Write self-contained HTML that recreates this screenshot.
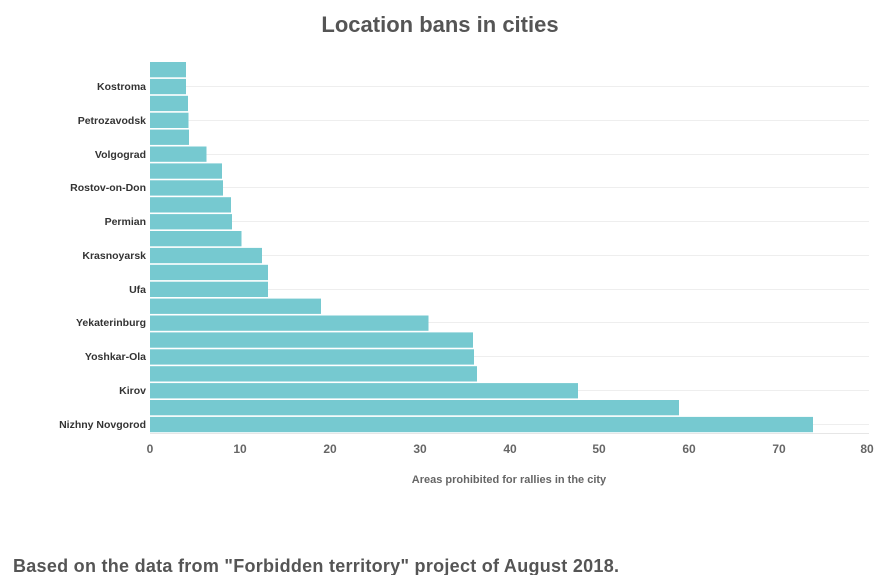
<!DOCTYPE html>
<html><head><style>
body{margin:0;background:#fff;width:879px;height:575px;overflow:hidden;font-family:"Liberation Sans",sans-serif;}
</style></head><body>
<svg width="879" height="575" xmlns="http://www.w3.org/2000/svg" font-family="Liberation Sans, sans-serif">
<text x="440" y="32" text-anchor="middle" font-size="22" font-weight="bold" fill="#555">Location bans in cities</text>
<g stroke="#eee" stroke-width="1">
<line x1="150" x2="869" y1="86.5" y2="86.5"/><line x1="150" x2="869" y1="120.5" y2="120.5"/>
<line x1="150" x2="869" y1="154.5" y2="154.5"/><line x1="150" x2="869" y1="187.5" y2="187.5"/>
<line x1="150" x2="869" y1="221.5" y2="221.5"/><line x1="150" x2="869" y1="255.5" y2="255.5"/>
<line x1="150" x2="869" y1="289.5" y2="289.5"/><line x1="150" x2="869" y1="322.5" y2="322.5"/>
<line x1="150" x2="869" y1="356.5" y2="356.5"/><line x1="150" x2="869" y1="390.5" y2="390.5"/>
<line x1="150" x2="869" y1="424.5" y2="424.5"/>
</g>
<g fill="#76c9d0">
<rect x="150" y="62" width="36" height="15.3"/>
<rect x="150" y="78.9" width="36" height="15.3"/>
<rect x="150" y="95.8" width="38" height="15.3"/>
<rect x="150" y="112.7" width="38.5" height="15.3"/>
<rect x="150" y="129.6" width="39" height="15.3"/>
<rect x="150" y="146.5" width="56.5" height="15.3"/>
<rect x="150" y="163.4" width="72" height="15.3"/>
<rect x="150" y="180.3" width="73" height="15.3"/>
<rect x="150" y="197.2" width="81" height="15.3"/>
<rect x="150" y="214.1" width="82" height="15.3"/>
<rect x="150" y="231" width="91.5" height="15.3"/>
<rect x="150" y="247.9" width="112" height="15.3"/>
<rect x="150" y="264.8" width="118" height="15.3"/>
<rect x="150" y="281.7" width="118" height="15.3"/>
<rect x="150" y="298.6" width="171" height="15.3"/>
<rect x="150" y="315.5" width="278.5" height="15.3"/>
<rect x="150" y="332.4" width="323" height="15.3"/>
<rect x="150" y="349.3" width="324" height="15.3"/>
<rect x="150" y="366.2" width="327" height="15.3"/>
<rect x="150" y="383.1" width="428" height="15.3"/>
<rect x="150" y="400" width="529" height="15.3"/>
<rect x="150" y="416.9" width="663" height="15.3"/>
</g>
<line x1="150" x2="869" y1="433.5" y2="433.5" stroke="#e6e6e6"/>
<g font-size="10.5" font-weight="bold" fill="#333" text-anchor="end">
<text x="146" y="90">Kostroma</text><text x="146" y="124">Petrozavodsk</text>
<text x="146" y="158">Volgograd</text><text x="146" y="191">Rostov-on-Don</text>
<text x="146" y="225">Permian</text><text x="146" y="259">Krasnoyarsk</text>
<text x="146" y="293">Ufa</text><text x="146" y="326">Yekaterinburg</text>
<text x="146" y="360">Yoshkar-Ola</text><text x="146" y="394">Kirov</text>
<text x="146" y="428">Nizhny Novgorod</text>
</g>
<g font-size="12" font-weight="bold" fill="#666" text-anchor="middle">
<text x="150" y="453">0</text><text x="240" y="453">10</text><text x="330" y="453">20</text>
<text x="420" y="453">30</text><text x="510" y="453">40</text><text x="599" y="453">50</text>
<text x="689" y="453">60</text><text x="779" y="453">70</text><text x="867" y="453">80</text>
</g>
<text x="509" y="483" text-anchor="middle" font-size="11" font-weight="bold" fill="#666">Areas prohibited for rallies in the city</text>
<text x="13" y="572" font-size="18" font-weight="bold" fill="#555" textLength="606" lengthAdjust="spacing">Based on the data from "Forbidden territory" project of August 2018.</text>
</svg>
</body></html>
